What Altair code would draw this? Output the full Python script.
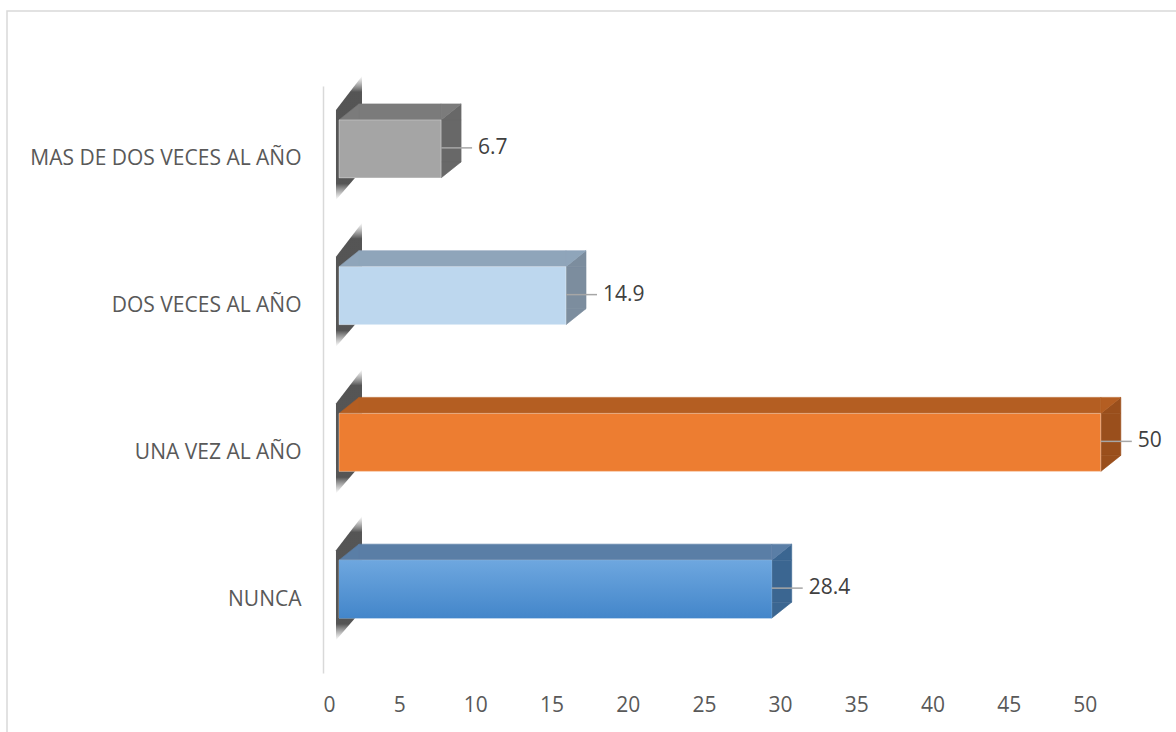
import altair as alt
import pandas as pd

# Survey answers, top to bottom, and their percentages
categories = ["MAS DE DOS VECES AL AÑO", "DOS VECES AL AÑO", "UNA VEZ AL AÑO", "NUNCA"]
values = [6.7, 14.9, 50, 28.4]
tick_values = [0, 5, 10, 15, 20, 25, 30, 35, 40, 45, 50]

# Face colours of each 3D bar: front, top and right side
front_colors = ["#A5A5A5", "#BDD7EE", "#ED7D31", "#5B9BD5"]
top_colors = ["#7B7B7B", "#8FA5BA", "#B45E22", "#5A7EA6"]
side_colors = ["#686868", "#7C8D9E", "#9A4F1C", "#3B6691"]

df = pd.DataFrame({
    "cat": categories,
    "value": values,
    "front": front_colors,
    "top": top_colors,
    "side": side_colors,
})

FONT = "Open Sans"
TEXT = "#595959"
DX, DY = 20, 16          # depth of the 3D extrusion in pixels
FRONT_OFF = 16           # front face shifted right of the axis
H = 58                   # front face thickness
CY = -10.5               # front face centre relative to band centre

y_enc = alt.Y(
    "cat:N",
    sort=categories,
    scale=alt.Scale(paddingInner=0, paddingOuter=0),
    axis=alt.Axis(
        title=None, ticks=False, domainColor="#D9D9D9", domainWidth=1.5,
        labelFont=FONT, labelFontSize=21, labelColor=TEXT, labelPadding=22,
        labelLimit=400,
    ),
)
x_scale = alt.Scale(domain=[0, 55], nice=False, zero=True)
x_axis = alt.Axis(
    title=None, values=tick_values, domain=False, ticks=False, grid=False,
    labelFont=FONT, labelFontSize=21, labelColor=TEXT, labelPadding=21,
)


def xv(field="value"):
    return alt.X(f"{field}:Q", scale=x_scale, axis=x_axis)


base = alt.Chart(df).transform_calculate(zero="0")
paint = lambda col: alt.Color(f"{col}:N", scale=None)
edge = lambda col: alt.Stroke(f"{col}:N", scale=None)

front_top = CY - H / 2
front_bottom = CY + H / 2

# soft slanted shadow cast by the left end of each bar
shadow = base.mark_point(
    shape="M-0.21,-0.45 L0.21,-1 L0.21,0.516 L-0.21,1 Z",
    size=15376, filled=True, opacity=1, strokeWidth=0,
    xOffset=26, yOffset=CY - 11,
    fill=alt.Gradient(
        gradient="linear", x1=0, y1=0, x2=0, y2=1,
        stops=[
            alt.GradientStop(offset=0, color="rgba(100,100,100,0)"),
            alt.GradientStop(offset=0.13, color="rgba(55,55,55,0.85)"),
            alt.GradientStop(offset=0.87, color="rgba(55,55,55,0.85)"),
            alt.GradientStop(offset=1, color="rgba(100,100,100,0)"),
        ],
    ),
).encode(x=xv("zero"), y=y_enc)

tri_size = DX * DX
tri_kw = dict(size=tri_size, filled=True, opacity=1, strokeWidth=0.6)

# right side face: rectangle plus two corner triangles
side_rect = base.mark_bar(
    height=H - DY, yOffset=front_top + (H - DY) / 2,
    xOffset=FRONT_OFF, x2Offset=FRONT_OFF + DX, strokeWidth=0.6,
).encode(x=xv(), x2="value:Q", y=y_enc, color=paint("side"), stroke=edge("side"))
side_tri_up = base.mark_point(
    shape="M-1,0.8 L1,-0.8 L1,0.8 Z",
    xOffset=FRONT_OFF + DX / 2, yOffset=front_top - DY / 2, **tri_kw,
).encode(x=xv(), y=y_enc, color=paint("side"), stroke=edge("side"))
side_tri_down = base.mark_point(
    shape="M-1,-0.8 L1,-0.8 L-1,0.8 Z",
    xOffset=FRONT_OFF + DX / 2, yOffset=front_bottom - DY / 2, **tri_kw,
).encode(x=xv(), y=y_enc, color=paint("side"), stroke=edge("side"))

# top face: rectangle plus two corner triangles
top_rect = base.mark_bar(
    height=DY, yOffset=front_top - DY / 2,
    xOffset=FRONT_OFF, x2Offset=FRONT_OFF + DX, strokeWidth=0.6,
).encode(x=xv(), x2=alt.X2("zero:Q"), y=y_enc, color=paint("top"), stroke=edge("top"))
top_tri_left = base.mark_point(
    shape="M-1,0.8 L1,-0.8 L1,0.8 Z",
    xOffset=FRONT_OFF + DX / 2, yOffset=front_top - DY / 2, **tri_kw,
).encode(x=xv("zero"), y=y_enc, color=paint("top"), stroke=edge("top"))
top_tri_right = base.mark_point(
    shape="M-1,0.8 L-1,-0.8 L1,-0.8 Z",
    xOffset=FRONT_OFF + DX / 2, yOffset=front_top - DY / 2, **tri_kw,
).encode(x=xv(), y=y_enc, color=paint("top"), stroke=edge("top"))

# front face
front = base.mark_bar(
    height=H, yOffset=CY, xOffset=FRONT_OFF, x2Offset=FRONT_OFF,
    strokeWidth=1, strokeOpacity=0.35, stroke="white",
).encode(x=xv(), x2=alt.X2("zero:Q"), y=y_enc, color=paint("front"))

# the NUNCA bar has a gentle vertical gradient on its face
front_grad = base.transform_filter(alt.datum.cat == "NUNCA").mark_bar(
    height=H, yOffset=CY, xOffset=FRONT_OFF, x2Offset=FRONT_OFF,
    color=alt.Gradient(
        gradient="linear", x1=0, y1=0, x2=0, y2=1,
        stops=[
            alt.GradientStop(offset=0, color="#6EA7DF"),
            alt.GradientStop(offset=1, color="#4386CA"),
        ],
    ),
).encode(x=xv(), x2=alt.X2("zero:Q"), y=y_enc)

# leader lines and value labels
leader = base.mark_rule(
    color="#A6A6A6", strokeWidth=1.5, yOffset=CY - 1,
    xOffset=FRONT_OFF, x2Offset=FRONT_OFF + 31,
).encode(x=xv(), x2="value:Q", y=y_enc)

labels = base.mark_text(
    align="left", baseline="middle", font=FONT, fontSize=21, color="#404040",
    dx=FRONT_OFF + 37, dy=CY - 1,
).encode(x=xv(), y=y_enc, text=alt.Text("value:Q"))

# light frame around the chart area
frame = alt.Chart(pd.DataFrame({"a": [0]})).mark_rect(
    fill=None, stroke="#D9D9D9", strokeWidth=1.5,
).encode(x=alt.value(-316), x2=alt.value(1000), y=alt.value(-75), y2=alt.value(800))

chart = alt.layer(
    frame, shadow, side_rect, side_tri_up, side_tri_down,
    top_rect, top_tri_left, top_tri_right, front, front_grad, leader, labels,
).properties(
    width=838, height=587,
    autosize=alt.AutoSizeParams(type="none"),
    padding={"left": 323, "top": 86, "right": 15, "bottom": 59},
    background="white",
).configure_view(stroke=None)

chart.save("out.html", embed_options={"renderer": "svg", "actions": False})
